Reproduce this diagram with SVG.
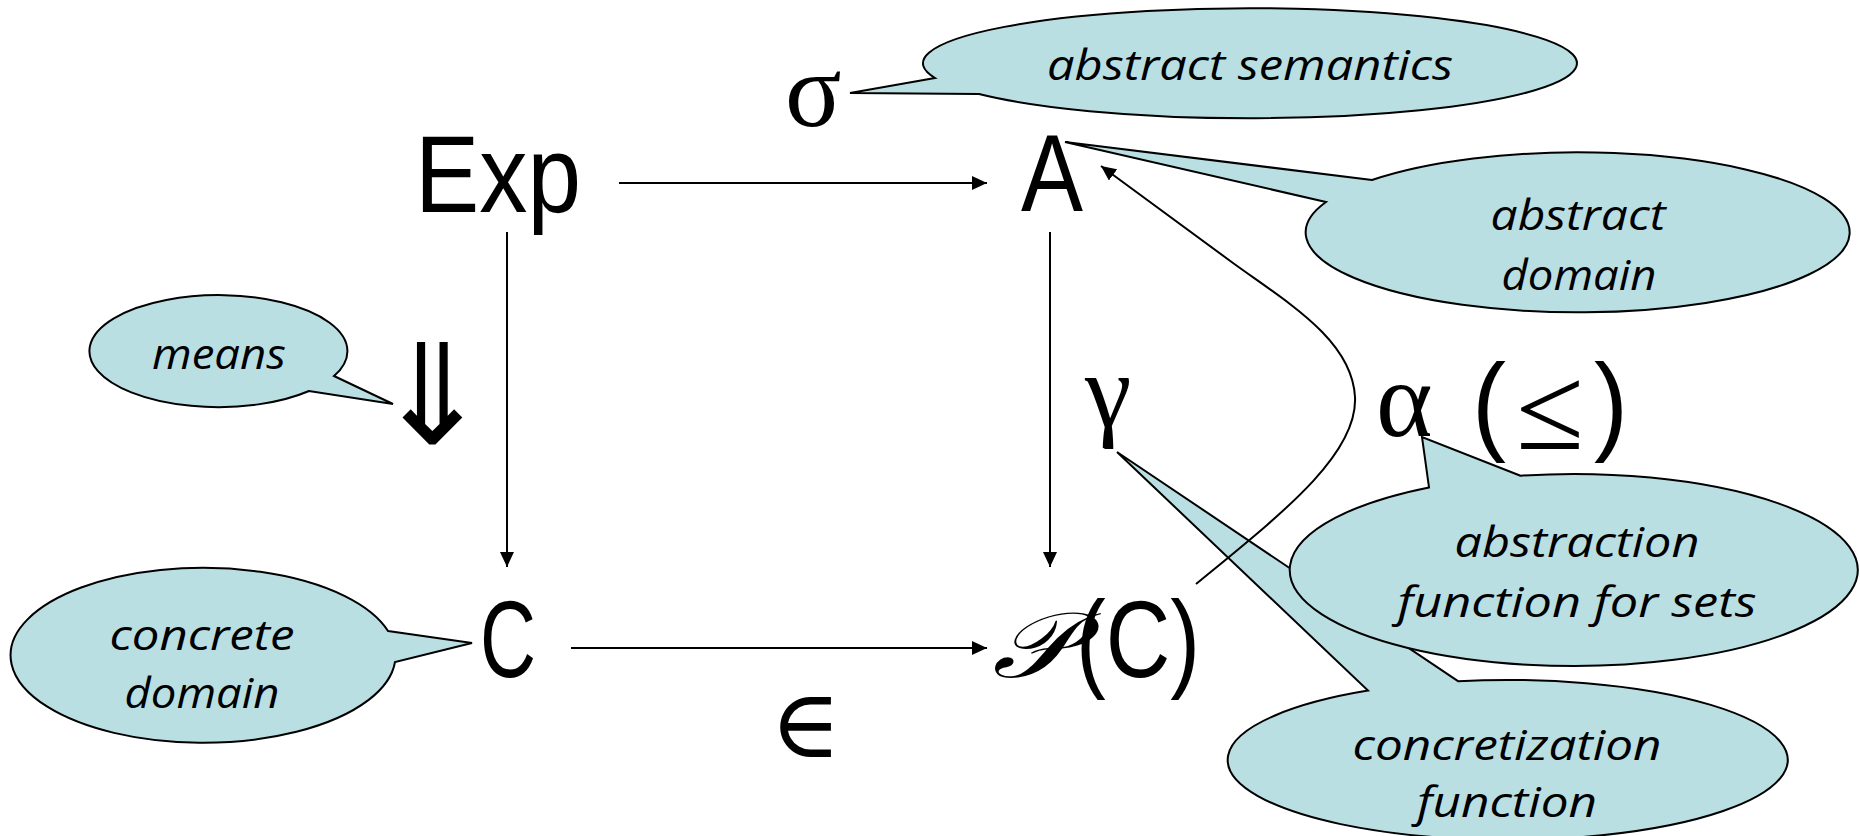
<svg xmlns="http://www.w3.org/2000/svg" width="1860" height="836" viewBox="0 0 1860 836">
<style>
.bub{fill:#B9DFE3;stroke:#000;stroke-width:2;stroke-linejoin:miter}
.lbl{font-family:"Open Sans","DejaVu Sans",sans-serif;font-style:italic;font-size:42px;fill:#000;text-anchor:middle}
.big{font-family:"Liberation Sans Narrow","Liberation Sans",sans-serif;font-size:110px;fill:#000}
.sym{font-family:"Liberation Serif","DejaVu Serif",serif;fill:#000}
.con{fill:none;stroke:#000;stroke-width:2}
</style>
<defs>
<marker id="ah" markerUnits="userSpaceOnUse" markerWidth="16" markerHeight="14" refX="15" refY="7" orient="auto"><path d="M0,0 L15,7 L0,14 Z" fill="#000"/></marker>
</defs>
<rect width="1860" height="836" fill="#fff"/>
<g id="bubble-concretization">
<path class="bub" d="M1458,681.2 L1117,452 L1368,690.6 A280,80 0 1 0 1458,681.2 Z"/>
<text class="lbl" x="1507" y="760" textLength="309" lengthAdjust="spacingAndGlyphs">concretization</text>
<text class="lbl" x="1507" y="817" textLength="180" lengthAdjust="spacingAndGlyphs">function</text>
</g>
<g id="bubble-abstraction">
<path class="bub" d="M1520.5,475.7 L1422,437 L1429,487.4 A284,96 0 1 0 1520.5,475.7 Z"/>
<text class="lbl" x="1577" y="557" textLength="245" lengthAdjust="spacingAndGlyphs">abstraction</text>
<text class="lbl" x="1577" y="617" textLength="359" lengthAdjust="spacingAndGlyphs">function for sets</text>
</g>
<g id="bubble-abstract-semantics">
<path class="bub" d="M935,78 L850,93 L979,94 A327,55 0 1 0 935,78 Z"/>
<text class="lbl" x="1250" y="80" textLength="406" lengthAdjust="spacingAndGlyphs">abstract semantics</text>
</g>
<g id="bubble-abstract-domain">
<path class="bub" d="M1372,180 L1065,142 L1326,202 A272,80 0 1 0 1372,180 Z"/>
<text class="lbl" x="1578" y="230" textLength="175" lengthAdjust="spacingAndGlyphs">abstract</text>
<text class="lbl" x="1579" y="290" textLength="155" lengthAdjust="spacingAndGlyphs">domain</text>
</g>
<g id="bubble-means">
<path class="bub" d="M334,376 L393,404 L309,391 A129,56 0 1 1 334,376 Z"/>
<text class="lbl" x="219" y="369" textLength="134" lengthAdjust="spacingAndGlyphs">means</text>
</g>
<g id="bubble-concrete-domain">
<path class="bub" d="M388,631 L472,643 L395,662 A192.5,87.5 0 1 1 388,631 Z"/>
<text class="lbl" x="202" y="650" textLength="185" lengthAdjust="spacingAndGlyphs">concrete</text>
<text class="lbl" x="202" y="708" textLength="155" lengthAdjust="spacingAndGlyphs">domain</text>
</g>
<g id="connectors">
<path class="con" d="M619,183 H987" marker-end="url(#ah)"/>
<path class="con" d="M571,648 H987" marker-end="url(#ah)"/>
<path class="con" d="M507,232 V567" marker-end="url(#ah)"/>
<path class="con" d="M1050,232 V567" marker-end="url(#ah)"/>
<path class="con" d="M1196,584 C1280,515 1358,455 1355,397 C1352,340 1288,303 1233,263 L1101,166" marker-end="url(#ah)"/>
</g>
<g id="node-exp"><text class="big" x="415" y="212" textLength="166" lengthAdjust="spacingAndGlyphs">Exp</text></g>
<g id="node-a"><text class="big" x="1021" y="211" textLength="62" lengthAdjust="spacingAndGlyphs">A</text></g>
<g id="node-c"><text class="big" x="480" y="677" textLength="56" lengthAdjust="spacingAndGlyphs">C</text></g>
<g id="node-pc">
<text class="sym" x="992" y="677" font-size="92" font-style="italic" textLength="80" lengthAdjust="spacingAndGlyphs">𝒫</text>
<text class="big" x="1076" y="677" textLength="124" lengthAdjust="spacingAndGlyphs">(C)</text>
</g>
<g id="label-sigma"><text class="sym" x="785" y="126" font-size="105">σ</text></g>
<g id="label-gamma"><text class="sym" x="1085" y="426" font-size="105">γ</text></g>
<g id="label-alpha">
<text class="sym" x="1376" y="436" font-size="108">α</text>
<text class="big" x="1472" y="440" font-size="118" textLength="34" lengthAdjust="spacingAndGlyphs">(</text>
<text class="sym" x="1516" y="449" font-size="120" textLength="68" lengthAdjust="spacingAndGlyphs">≤</text>
<text class="big" x="1594" y="440" font-size="118" textLength="34" lengthAdjust="spacingAndGlyphs">)</text>
</g>
<g id="label-in"><text class="sym" x="770" y="757" font-size="96">∈</text></g>
<g id="label-means-arrow"><text x="374" y="444" font-family="DejaVu Sans" font-size="140" textLength="117" lengthAdjust="spacingAndGlyphs">⇓</text></g>
</svg>
